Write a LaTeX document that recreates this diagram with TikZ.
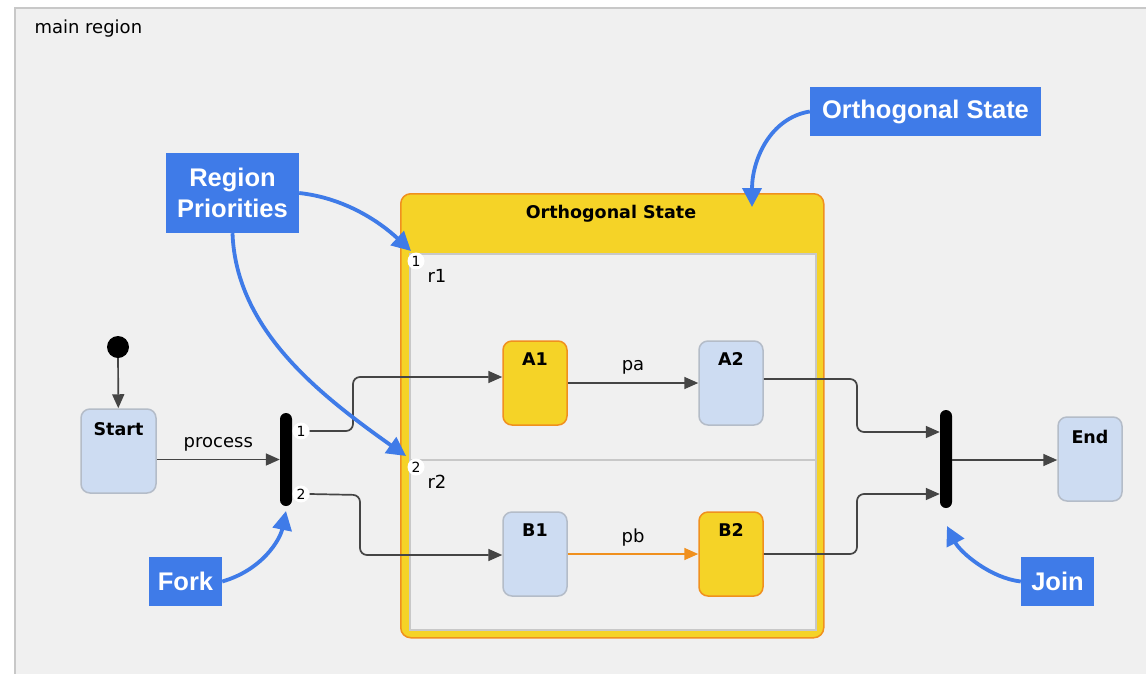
\documentclass[tikz,border=0pt]{standalone}
\usepackage{fontspec}
\setmainfont{DejaVu Sans}
\newfontfamily\calloutfont{Liberation Sans}
\usetikzlibrary{arrows.meta}
\definecolor{bgc}{HTML}{F0F0F0}
\definecolor{regborder}{HTML}{C8C8C8}
\definecolor{styellow}{HTML}{F5D327}
\definecolor{storange}{HTML}{F0901E}
\definecolor{stblue}{HTML}{CDDCF2}
\definecolor{stblueborder}{HTML}{B4BCC8}
\definecolor{callblue}{HTML}{3F7BE8}
\definecolor{edgec}{HTML}{454545}
\tikzset{
  regionbox/.style={draw=regborder, fill=bgc, line width=1.5, inner sep=0, anchor=north west},
  simplestate/.style={rounded corners=9, minimum width=64, minimum height=84, inner sep=0, line width=1.5},
  bluestate/.style={simplestate, fill=stblue, draw=stblueborder},
  yellowstate/.style={simplestate, fill=styellow, draw=storange},
  stlabel/.style={font=\fontsize{17.5}{20}\selectfont\bfseries},
  plainlabel/.style={font=\fontsize{18}{21}\selectfont},
  badge/.style={circle, fill=white, inner sep=0, minimum size=17, font=\fontsize{14}{15}\selectfont},
  bar/.style={fill=black, rounded corners=6, minimum width=12, inner sep=0},
  edgeline/.style={draw=edgec, line width=1.7, -{Triangle[length=14,width=12]}},
  callout/.style={fill=callblue, text=white, inner sep=0, font=\calloutfont\fontsize{25.5}{31}\selectfont\bfseries, align=center},
  callarrow/.style={draw=callblue, line width=3.8, -{Triangle[length=19,width=19]}},
}
\begin{document}
\begin{tikzpicture}[x=1pt,y=-1pt]
\useasboundingbox (0,0) rectangle (1146,673);
\fill[white] (0,0) rectangle (1146,673);
% main region
\node[regionbox, minimum width=1150, minimum height=680] (main) at (14,7) {};
\node[plainlabel, anchor=west] (mainlabel) at (31,29) {main region};

% orthogonal state
\node[fill=styellow, draw=storange, line width=1.5, rounded corners=10, minimum width=423, minimum height=444, inner sep=0, anchor=north west] (ortho) at (400,193) {};
\node[stlabel] (orthotitle) at (611,214) {Orthogonal State};
\node[regionbox, minimum width=406, minimum height=206] (r1) at (409,253) {};
\node[regionbox, minimum width=406, minimum height=170] (r2) at (409,459) {};
\node[badge] (b1) at (416,261) {1};
\node[plainlabel, anchor=west] (r1label) at (424,276) {r1};
\node[badge] (b2) at (416,467) {2};
\node[plainlabel, anchor=west] (r2label) at (424,482) {r2};

% states
\node[yellowstate] (a1) at (535,383) {};
\node[stlabel] at ([yshift=-19]a1.north) {A1};
\node[bluestate] (a2) at (731,383) {};
\node[stlabel] at ([yshift=-19]a2.north) {A2};
\node[bluestate] (bone) at (535,554) {};
\node[stlabel] at ([yshift=-19]bone.north) {B1};
\node[yellowstate] (btwo) at (731,554) {};
\node[stlabel] at ([yshift=-19]btwo.north) {B2};
\node[bluestate, minimum width=75] (start) at (118.5,451) {};
\node[stlabel] at ([yshift=-21]start.north) {Start};
\node[bluestate] (endst) at (1090,459) {};
\node[stlabel] at ([yshift=-21]endst.north) {End};
\node[circle, fill=black, minimum size=22, inner sep=0] (init) at (118,347) {};

% fork / join
\node[bar, minimum height=93] (fork) at (286,459.5) {};
\node[bar, minimum height=98] (join) at (946,459) {};
\node[badge] (fp1) at (301,431) {1};
\node[badge] (fp2) at (301,494) {2};

% transitions
\draw[edgeline] (init) -- (start);
\draw[edgeline] (start.east |- fork.west) -- node[plainlabel, above=4] {process} (fork.west);
\draw[edgeline, rounded corners=7] (fp1.east) -- (353,431) -- (353,377) -- ([yshift=6]a1.west);
\draw[edgeline, rounded corners=7] (fp2.east) -- (360,495) -- (360,555) -- (bone.west |- 0,555);
\draw[edgeline] (a1.east) -- node[plainlabel, above=5] {pa} (a2.west);
\draw[edgeline, draw=storange, -{Triangle[length=14,width=12,fill=storange]}] (bone.east) -- node[plainlabel, above=4] {pb} (btwo.west);
\draw[edgeline, rounded corners=7] ([yshift=4]a2.east) -- (857,379) -- (857,432) -- (join.west |- 0,432);
\draw[edgeline, rounded corners=7] (btwo.east) -- (857,554) -- (857,494) -- (join.west |- 0,494);
\draw[edgeline] (join.east |- 0,460) -- (endst.west |- 0,460);

% callouts
\node[callout, minimum width=231, minimum height=49] (cos) at (925.5,111.5) {Orthogonal State};
\node[callout, minimum width=133, minimum height=80] (crp) at (232.5,193) {Region\\Priorities};
\node[callout, minimum width=73, minimum height=49] (cfork) at (185.5,581.5) {Fork};
\node[callout, minimum width=73, minimum height=49] (cjoin) at (1057.5,581.5) {Join};
\coordinate (tos) at (752,207);
\coordinate (tr1) at (411,251);
\coordinate (tr2) at (406,456);
\coordinate (tfork) at (286,511);
\coordinate (tjoin) at (947,526);
\draw[callarrow] (cos.west) .. controls (770,118) and (752,160) .. (tos);
\draw[callarrow] (crp.east) .. controls (345,198) and (380,222) .. (tr1);
\draw[callarrow] (crp.south) .. controls (236,330) and (320,395) .. (tr2);
\draw[callarrow] (cfork.east) .. controls (262,570) and (280,540) .. (tfork);
\draw[callarrow] (cjoin.west) .. controls (990,578) and (960,552) .. (tjoin);
\end{tikzpicture}
\end{document}
